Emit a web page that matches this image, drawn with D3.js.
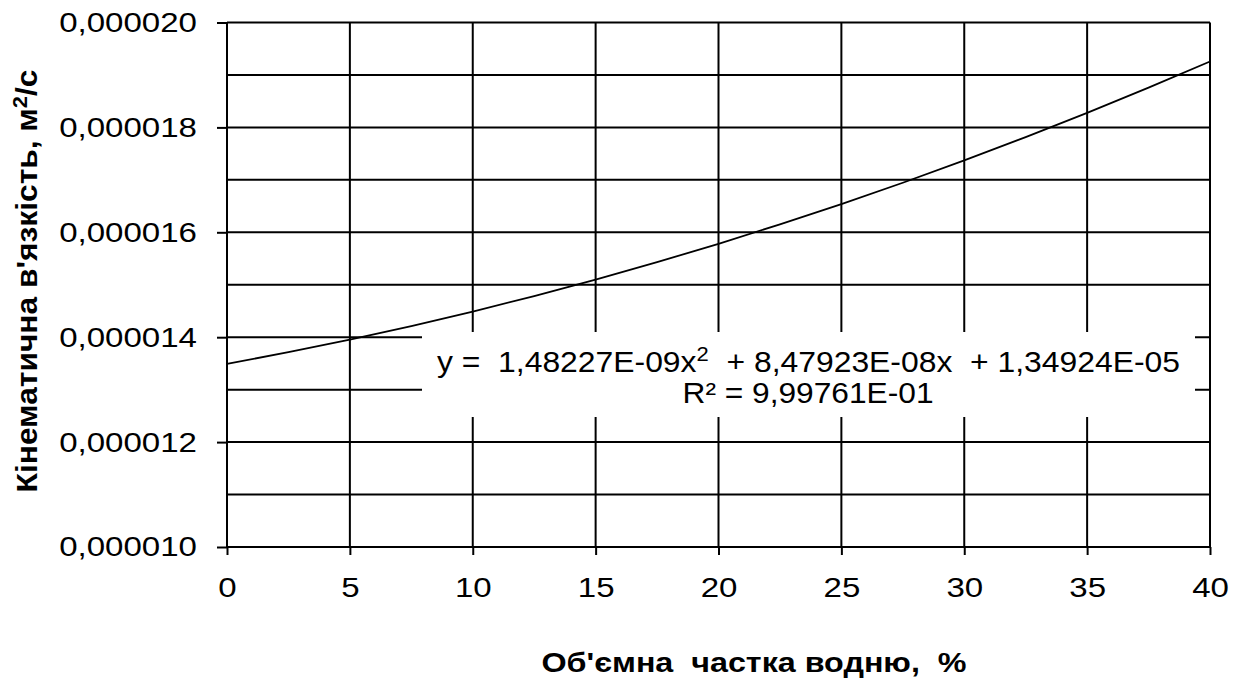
<!DOCTYPE html>
<html>
<head>
<meta charset="utf-8">
<script src="https://cdn.jsdelivr.net/npm/d3@7"></script>
<style>
    body { margin: 0; background: #fff; }
    svg { display: block; }
    text { font-family: 'Liberation Sans', Arial, sans-serif; fill: #000; white-space: pre; }
</style>
</head>
<body>
<svg id="chart" width="1245" height="679"></svg>
<script>
// water volume share, %
const waterShare = [0, 2.5, 5, 7.5, 10, 12.5, 15, 17.5, 20, 22.5, 25, 27.5, 30, 32.5, 35, 37.5, 40];
// kinematic viscosity, m2/s
const viscosity = [
    1.3492e-5, 1.3714e-5, 1.3953e-5, 1.4212e-5, 1.4489e-5, 1.4784e-5, 1.5098e-5, 1.5430e-5,
    1.5781e-5, 1.6151e-5, 1.6539e-5, 1.6945e-5, 1.7370e-5, 1.7814e-5, 1.8276e-5, 1.8757e-5, 1.9256e-5
];
const xTicks = [0, 5, 10, 15, 20, 25, 30, 35, 40];
const yTicks = [10e-6, 12e-6, 14e-6, 16e-6, 18e-6, 20e-6];
const yGrid = [10e-6, 11e-6, 12e-6, 13e-6, 14e-6, 15e-6, 16e-6, 17e-6, 18e-6, 19e-6, 20e-6];
const equationParts = ['y =  1,48227E-09x', '2', '  + 8,47923E-08x  + 1,34924E-05'];
const rSquared = 'R² = 9,99761E-01';
const xTitle = "Об'ємна  частка водню,  %";
const yTitle = ["Кінематична в'язкість, м", '2', '/с'];

const svg = d3.select('#chart');
const plotLeft = 227, plotRight = 1210, plotTop = 22.5, plotBottom = 547;

const x = d3.scaleLinear().domain([0, 40]).range([plotLeft, plotRight]);
const y = d3.scaleLinear().domain([10e-6, 20e-6]).range([plotBottom, plotTop]);

// widen text the way the picture does
function stretch(sel, k) {
    sel.each(function () {
        let len = this.getComputedTextLength();
        d3.select(this).attr('textLength', len * k).attr('lengthAdjust', 'spacingAndGlyphs');
    });
}

// grid
svg.append('g')
    .selectAll('line')
    .data(yGrid)
    .join('line')
    .attr('x1', plotLeft)
    .attr('x2', plotRight)
    .attr('y1', d => y(d))
    .attr('y2', d => y(d))
    .style('stroke', '#000')
    .style('stroke-width', 2);

svg.append('g')
    .selectAll('line')
    .data(xTicks)
    .join('line')
    .attr('x1', d => x(d))
    .attr('x2', d => x(d))
    .attr('y1', plotTop)
    .attr('y2', plotBottom)
    .style('stroke', '#000')
    .style('stroke-width', 2);

// axes
let fmt = d3.format('.6f');

let yAxis = svg.append('g')
    .attr('transform', `translate(${plotLeft},0)`)
    .call(d3.axisLeft(y).tickValues(yTicks).tickSize(10).tickPadding(20)
        .tickFormat(d => fmt(d).replace('.', ',')));

let xAxis = svg.append('g')
    .attr('transform', `translate(0,${plotBottom})`)
    .call(d3.axisBottom(x).tickValues(xTicks).tickSize(8).tickPadding(22));

[yAxis, xAxis].forEach(a => {
    a.select('.domain').remove();
    a.selectAll('.tick line').style('stroke', '#000').style('stroke-width', 2);
    a.selectAll('text')
        .attr('font-family', null)
        .style('font-size', '28px');
});
stretch(yAxis.selectAll('text'), 1.18);
stretch(xAxis.selectAll('text'), 1.18);

// curve
let line = d3.line()
    .x((d, i) => x(waterShare[i]))
    .y(d => y(d))
    .curve(d3.curveMonotoneX);

svg.append('path')
    .datum(viscosity)
    .attr('d', line)
    .style('fill', 'none')
    .style('stroke', '#000')
    .style('stroke-width', 1.8);

// trendline label
svg.append('rect')
    .attr('x', 422)
    .attr('y', 332)
    .attr('width', 773)
    .attr('height', 85)
    .style('fill', '#fff');

let eq = svg.append('text')
    .attr('x', 437)
    .attr('y', 372)
    .style('font-size', '29px');
eq.append('tspan').text(equationParts[0]);
eq.append('tspan').attr('dy', -11).style('font-size', '20px').text(equationParts[1]);
eq.append('tspan').attr('dy', 11).text(equationParts[2]);
eq.attr('textLength', 743).attr('lengthAdjust', 'spacingAndGlyphs');

svg.append('text')
    .attr('x', 808)
    .attr('y', 403)
    .attr('text-anchor', 'middle')
    .style('font-size', '29px')
    .attr('textLength', 251)
    .attr('lengthAdjust', 'spacingAndGlyphs')
    .text(rSquared);

// titles
svg.append('text')
    .attr('x', 754)
    .attr('y', 672)
    .attr('text-anchor', 'middle')
    .style('font-size', '27px')
    .style('font-weight', 'bold')
    .attr('textLength', 425)
    .attr('lengthAdjust', 'spacingAndGlyphs')
    .text(xTitle);

let yt = svg.append('text')
    .attr('transform', 'translate(37,281) rotate(-90)')
    .attr('text-anchor', 'middle')
    .style('font-size', '29px')
    .style('font-weight', 'bold');
yt.append('tspan').text(yTitle[0]);
yt.append('tspan').attr('dy', -10).style('font-size', '20px').text(yTitle[1]);
yt.append('tspan').attr('dy', 10).text(yTitle[2]);
yt.attr('textLength', 423).attr('lengthAdjust', 'spacingAndGlyphs');
</script>
</body>
</html>
